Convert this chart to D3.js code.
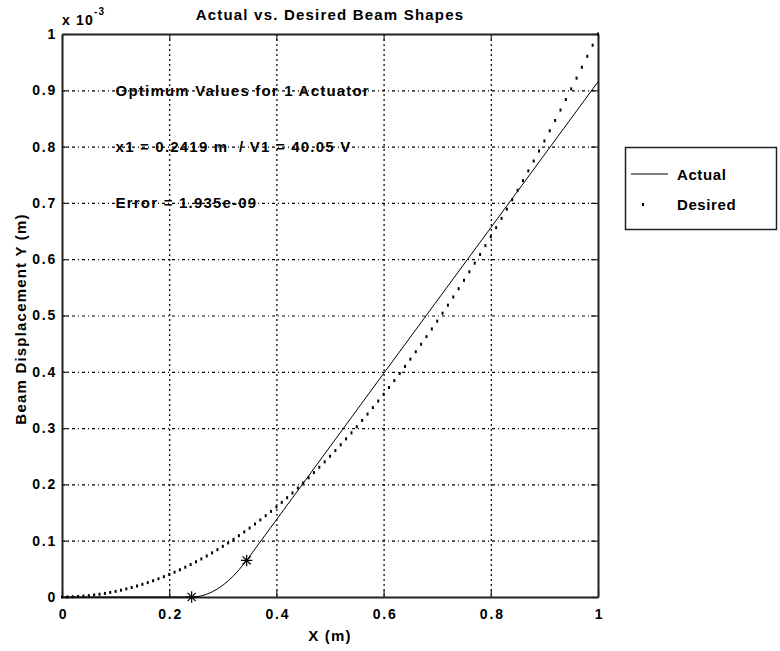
<!DOCTYPE html>
<html>
<head>
<meta charset="utf-8">
<script src="https://cdn.jsdelivr.net/npm/d3@7"></script>
<style>
  body { margin: 0; background: #fff; }
  text { font-family: "Liberation Sans", Arial, sans-serif; font-weight: bold; font-size: 15px; letter-spacing: 1.2px; fill: #000; }
  .tick text { font-size: 14px; letter-spacing: 1.8px; }
</style>
</head>
<body>
<div id="chart"></div>
<script>
// Desired beam shape (x in m, y in units of 1e-3 m), plotted as dots
var desiredX = [0,0.01,0.02,0.03,0.04,0.05,0.06,0.07,0.08,0.09,0.1,0.11,0.12,0.13,0.14,0.15,0.16,0.17,0.18,0.19,
    0.2,0.21,0.22,0.23,0.24,0.25,0.26,0.27,0.28,0.29,0.3,0.31,0.32,0.33,0.34,0.35,0.36,0.37,0.38,0.39,
    0.4,0.41,0.42,0.43,0.44,0.45,0.46,0.47,0.48,0.49,0.5,0.51,0.52,0.53,0.54,0.55,0.56,0.57,0.58,0.59,
    0.6,0.61,0.62,0.63,0.64,0.65,0.66,0.67,0.68,0.69,0.7,0.71,0.72,0.73,0.74,0.75,0.76,0.77,0.78,0.79,
    0.8,0.81,0.82,0.83,0.84,0.85,0.86,0.87,0.88,0.89,0.9,0.91,0.92,0.93,0.94,0.95,0.96,0.97,0.98,0.99,1];
var desiredY = [0,0.0001,0.0004,0.0009,0.0016,0.0025,0.0036,0.0049,0.0064,0.0081,0.01,0.0121,0.0144,0.0169,0.0196,0.0225,0.0256,0.0289,0.0324,0.0361,
    0.04,0.0441,0.0484,0.0529,0.0576,0.0625,0.0676,0.0729,0.0784,0.0841,0.09,0.0961,0.1024,0.1089,0.1156,0.1225,0.1296,0.1369,0.1444,0.1521,
    0.16,0.1681,0.1764,0.1849,0.1936,0.2025,0.2116,0.2209,0.2304,0.2401,0.25,0.2601,0.2704,0.2809,0.2916,0.3025,0.3136,0.3249,0.3364,0.3481,
    0.36,0.3721,0.3844,0.3969,0.4096,0.4225,0.4356,0.4489,0.4624,0.4761,0.49,0.5041,0.5184,0.5329,0.5476,0.5625,0.5776,0.5929,0.6084,0.6241,
    0.64,0.6561,0.6724,0.6889,0.7056,0.7225,0.7396,0.7569,0.7744,0.7921,0.81,0.8281,0.8464,0.8649,0.8836,0.9025,0.9216,0.9409,0.9604,0.9801,1];

// Actual beam shape (solid line)
var actualX = [0, 0.2419, 0.25, 0.26, 0.27, 0.28, 0.29, 0.30, 0.31, 0.32, 0.33, 0.3445, 0.6, 0.8, 1.0];
var actualY = [0, 0, 0.0004, 0.002, 0.0049, 0.009, 0.0144, 0.0208, 0.0286, 0.0377, 0.048, 0.065, 0.397, 0.656, 0.915];

// actuator ends (star markers)
var starX = [0.2419, 0.3445];
var starY = [0, 0.065];

var xTicks = [0, 0.2, 0.4, 0.6, 0.8, 1];
var yTicks = [0, 0.1, 0.2, 0.3, 0.4, 0.5, 0.6, 0.7, 0.8, 0.9, 1];
var notes = ["Optimum Values for 1 Actuator", "x1 = 0.2419 m  / V1 = 40.05 V", "Error = 1.935e-09"];
var noteY = [0.9, 0.8, 0.7];
var legendLabels = ["Actual", "Desired"];

var W = 780, H = 651,
    pL = 62, pT = 34, pR = 598, pB = 597;

var svg = d3.select('#chart').append('svg')
    .attr('width', W)
    .attr('height', H);

var x = d3.scaleLinear().domain([0, 1]).range([pL, pR]);
var y = d3.scaleLinear().domain([0, 1]).range([pB, pT]);

var fmt = function(d){ return d === 0 ? '0' : d === 1 ? '1' : d3.format('.1f')(d); };

// grid
svg.append('g').selectAll('line')
    .data(xTicks.slice(1, -1))
    .enter().append('line')
    .attr('x1', function(d){ return x(d) + 0.5; })
    .attr('x2', function(d){ return x(d) + 0.5; })
    .attr('y1', pT).attr('y2', pB)
    .attr('stroke', '#000').attr('stroke-width', 1.2)
    .attr('stroke-dasharray', '2,3');
svg.append('g').selectAll('line')
    .data(yTicks.slice(1, -1))
    .enter().append('line')
    .attr('y1', function(d){ return y(d) + 0.5; })
    .attr('y2', function(d){ return y(d) + 0.5; })
    .attr('x1', pL).attr('x2', pR)
    .attr('stroke', '#000').attr('stroke-width', 1.2)
    .attr('stroke-dasharray', '3,3,1,3');

// axes, ticks pointing inward
var axB = svg.append('g').attr('transform', 'translate(0,' + pB + ')')
    .call(d3.axisBottom(x).tickValues(xTicks).tickSizeInner(-7).tickSizeOuter(0).tickPadding(8).tickFormat(fmt));
var axL = svg.append('g').attr('transform', 'translate(' + pL + ',0)')
    .call(d3.axisLeft(y).tickValues(yTicks).tickSizeInner(-7).tickSizeOuter(0).tickPadding(8).tickFormat(fmt));
var axT = svg.append('g').attr('transform', 'translate(0,' + pT + ')')
    .call(d3.axisTop(x).tickValues(xTicks).tickSizeInner(-7).tickSizeOuter(0).tickFormat(''));
var axR = svg.append('g').attr('transform', 'translate(' + pR + ',0)')
    .call(d3.axisRight(y).tickValues(yTicks).tickSizeInner(-7).tickSizeOuter(0).tickFormat(''));
[axB, axL, axT, axR].forEach(function(a){
    a.select('.domain').attr('stroke', '#222').attr('stroke-width', 2);
    a.selectAll('.tick line').attr('stroke', '#222').attr('stroke-width', 1.2);
    a.selectAll('text').attr('font-family', null).attr('font-size', null).attr('fill', '#000');
});
axB.selectAll('text').attr('y', 11).attr('dy', '0.75em').attr('dx', 1);
axL.selectAll('text').attr('x', -5);

// x 10^-3 exponent
var ex = svg.append('text').attr('x', pL).attr('y', 25).style('font-size', '14px');
ex.append('tspan').text('x 10');
ex.append('tspan').attr('dy', -10).style('font-size', '10px').text('-3');

// title and labels
svg.append('text').attr('x', (pL + pR) / 2).attr('y', 20)
    .attr('text-anchor', 'middle').text('Actual vs. Desired Beam Shapes');
svg.append('text').attr('x', (pL + pR) / 2).attr('y', 641)
    .attr('text-anchor', 'middle').text('X (m)');
svg.append('text')
    .attr('transform', 'translate(26,' + 319 + ') rotate(-90)')
    .attr('text-anchor', 'middle').text('Beam Displacement Y (m)');

// annotations
svg.append('g').selectAll('text')
    .data(notes)
    .enter().append('text')
    .attr('x', x(0.1))
    .attr('y', function(d, i){ return y(noteY[i]); })
    .attr('dy', '0.35em')
    .style('white-space', 'pre')
    .text(function(d){ return d; });

// desired: dots
svg.append('g').selectAll('rect')
    .data(desiredX)
    .enter().append('rect')
    .attr('x', function(d){ return x(d) - 1; })
    .attr('y', function(d, i){ return y(desiredY[i]) - 1.5; })
    .attr('width', 2).attr('height', 3)
    .attr('fill', '#000');

// actual: solid line
var line = d3.line()
    .x(function(d){ return x(d[0]); })
    .y(function(d){ return y(d[1]); });
svg.append('path')
    .datum(d3.zip(actualX, actualY))
    .attr('d', line)
    .attr('fill', 'none')
    .attr('stroke', '#000')
    .attr('stroke-width', 1);

// star markers
var stars = svg.append('g').selectAll('g')
    .data(d3.zip(starX, starY))
    .enter().append('g')
    .attr('transform', function(d){ return 'translate(' + x(d[0]) + ',' + y(d[1]) + ')'; });
[d3.symbolPlus, d3.symbolTimes].forEach(function(t){
    stars.append('path')
        .attr('d', d3.symbol().type(t).size(45))
        .attr('fill', 'none')
        .attr('stroke', '#000')
        .attr('stroke-width', 1.2);
});

// legend
var lg = svg.append('g');
lg.append('rect')
    .attr('x', 625.5).attr('y', 147.5)
    .attr('width', 151).attr('height', 82)
    .attr('fill', '#fff').attr('stroke', '#222').attr('stroke-width', 1.5);
lg.append('line')
    .attr('x1', 631).attr('x2', 668).attr('y1', 174).attr('y2', 174)
    .attr('stroke', '#000');
lg.append('rect')
    .attr('x', 642).attr('y', 203).attr('width', 2).attr('height', 3)
    .attr('fill', '#000');
lg.selectAll('text.lab')
    .data(legendLabels)
    .enter().append('text')
    .attr('class', 'lab')
    .attr('x', 677)
    .attr('y', function(d, i){ return 175 + i * 30; })
    .attr('dy', '0.35em')
    .style('letter-spacing', '0.6px')
    .text(function(d){ return d; });
</script>
</body>
</html>
